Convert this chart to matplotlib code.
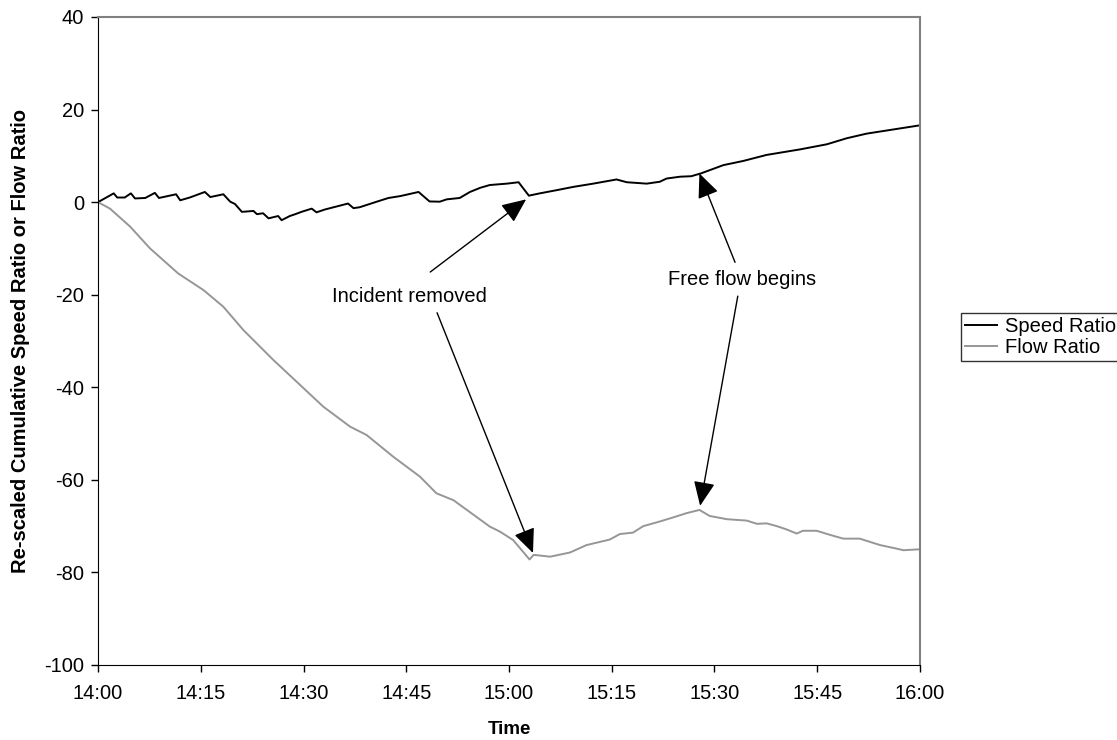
import matplotlib
matplotlib.use("Agg")
import matplotlib.pyplot as plt
from matplotlib.ticker import FixedLocator

plt.rcParams['font.family'] = ['Liberation Sans', 'DejaVu Sans']
plt.rcParams['axes.unicode_minus'] = False

# minutes after 14:00
speed_t = [0, 2.3, 2.8, 3.9, 4.8, 5.4, 6.9, 8.3, 8.9, 11.4, 12, 13.4, 15.6, 16.4,
           18.3, 19.3, 20, 21, 22.7, 23.2, 24.1, 24.9, 26.3, 26.8, 28, 28.8, 29.7,
           31.2, 31.9, 33.1, 36.5, 37.3, 38.2, 40.7, 42.4, 44.1, 46.8, 47.5, 48.4,
           49.9, 50.9, 52.8, 54.3, 55.8, 57.2, 59.7, 61.4, 62.9, 64.5, 67, 69.4,
           72.3, 75.7, 77.2, 80.1, 82, 83, 85, 86.6, 88, 91.3, 94.2, 97.6, 102.5,
           106.4, 109.3, 112.2, 116.1, 120]
speed_v = [0, 1.9, 1.0, 1.0, 1.9, 0.8, 0.9, 2.0, 0.9, 1.7, 0.4, 1.0, 2.2, 1.1,
           1.7, 0.1, -0.4, -2.1, -1.9, -2.6, -2.4, -3.5, -3.0, -3.9, -3.0, -2.6, -2.1,
           -1.4, -2.2, -1.6, -0.3, -1.3, -1.1, 0.1, 0.9, 1.3, 2.2, 1.3, 0.15,
           0.1, 0.6, 0.9, 2.2, 3.1, 3.7, 4.0, 4.3, 1.4, 1.9, 2.6, 3.3,
           4.0, 4.9, 4.3, 4.0, 4.4, 5.1, 5.5, 5.6, 6.2, 8.0, 8.9, 10.2, 11.4,
           12.5, 13.8, 14.8, 15.7, 16.6]

flow_t = [0, 1.75, 4.7, 7.6, 11.7, 15.4, 18.3, 21.2, 25.6, 29, 32.9, 36.8, 39.2,
          43.1, 47, 49.4, 51.9, 57.2, 58.7, 60.6, 63, 63.6, 64.8, 66, 68.9, 71.3,
          74.7, 76.2, 78.1, 79.6, 82, 84, 85.9, 87.8, 89.3, 91.8, 94.7, 96.2, 97.6,
          99.1, 100.5, 102, 102.9, 104.9, 106.9, 108.8, 111.2, 114.2, 116.1, 117.6, 120]
flow_v = [0, -1.4, -5.3, -10, -15.4, -19, -22.6, -27.6, -34.1, -38.8, -44.2, -48.5, -50.3,
          -55, -59.3, -62.9, -64.4, -70.1, -71.2, -73, -77.2, -76.2, -76.4, -76.6, -75.7, -74.1,
          -72.9, -71.7, -71.4, -70, -69, -68.1, -67.2, -66.5, -67.8, -68.5, -68.8, -69.5, -69.4,
          -70, -70.7, -71.6, -71, -71, -71.9, -72.7, -72.7, -74.1, -74.7, -75.2, -75]

tick_min = [0, 15, 30, 45, 60, 75, 90, 105, 120]
tick_lbl = ["14:00", "14:15", "14:30", "14:45", "15:00", "15:15", "15:30", "15:45", "16:00"]

fig = plt.figure(figsize=(11.17, 7.4), dpi=100)
ax = fig.add_axes([98 / 1117, 1 - 665 / 740, 822 / 1117, 648 / 740])

ax.plot(speed_t, speed_v, color='black', lw=1.4, label='Speed Ratio')
ax.plot(flow_t, flow_v, color='#969696', lw=1.4, label='Flow Ratio')

ax.set_xlim(0, 120)
ax.set_ylim(-100, 40)
ax.xaxis.set_major_locator(FixedLocator(tick_min))
ax.set_xticklabels(tick_lbl)
ax.set_yticks(range(-100, 41, 20))
ax.tick_params(labelsize=14.5, direction='out', length=5, width=1)
ax.tick_params(axis='x', pad=9)
ax.tick_params(axis='y', pad=5)

for s in ['left', 'bottom']:
    ax.spines[s].set_color('black')
for s in ['top', 'right']:
    ax.spines[s].set_color('#808080')
    ax.spines[s].set_linewidth(1.5)

ax.set_xlabel('Time', fontsize=13.5, fontweight='bold', labelpad=13)
ax.set_ylabel('Re-scaled Cumulative Speed Ratio or Flow Ratio', fontsize=14.5,
              fontweight='bold', labelpad=10)

arrow = dict(arrowstyle='-|>,head_length=0.5,head_width=0.22', mutation_scale=30,
             lw=1, color='black', shrinkA=0, shrinkB=0)
ax.text(45.5, -20.3, 'Incident removed', fontsize=14.5, ha='center', va='center')
ax.annotate('', xy=(62.5, 0.6), xytext=(48.5, -15.1), arrowprops=arrow)
ax.annotate('', xy=(63.5, -75.8), xytext=(49.5, -23.9), arrowprops=arrow)
ax.text(94, -16.8, 'Free flow begins', fontsize=14.5, ha='center', va='center')
ax.annotate('', xy=(87.8, 6.2), xytext=(93, -13), arrowprops=arrow)
ax.annotate('', xy=(87.9, -65.6), xytext=(93.4, -20.3), arrowprops=arrow)

leg = fig.legend(loc='upper left', bbox_to_anchor=(961 / 1117, 1 - 313 / 740),
                 fontsize=14.5, frameon=True, fancybox=False, edgecolor='black',
                 handlelength=1.6, labelspacing=0.1, borderpad=0.2,
                 handletextpad=0.4, borderaxespad=0)
leg.get_frame().set_linewidth(1)

fig.savefig('out.png', dpi=100)
